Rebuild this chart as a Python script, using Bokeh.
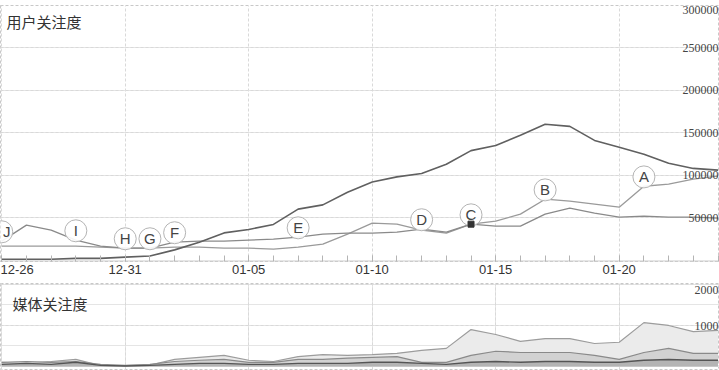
from bokeh.plotting import figure
from bokeh.layouts import column
from bokeh.models import ColumnDataSource, FixedTicker, Range1d, Label, LabelSet, Grid
from bokeh.core.properties import value
from bokeh.embed import file_html
from bokeh.resources import INLINE

# ---------------- data ----------------
dates = ["12-26", "12-27", "12-28", "12-29", "12-30", "12-31", "01-01", "01-02",
         "01-03", "01-04", "01-05", "01-06", "01-07", "01-08", "01-09", "01-10",
         "01-11", "01-12", "01-13", "01-14", "01-15", "01-16", "01-17", "01-18",
         "01-19", "01-20", "01-21", "01-22", "01-23", "01-24"]

user_total = [1000, 1000, 1000, 2000, 2000, 3500, 4700, 12000, 21000, 32000,
              36000, 42000, 60000, 65000, 80000, 92000, 98000, 102000, 113000, 129000,
              135000, 147000, 160000, 157600, 141000, 133000, 124700, 114000, 108000, 106000]

user_b = [22300, 41200, 35300, 23500, 16500, 14100, 14100, 21200, 22300, 22300,
          23500, 24700, 27000, 30600, 31800, 31800, 32900, 36500, 32900, 42300,
          40000, 40000, 54100, 61200, 55300, 50600, 51700, 50600, 50600, 49400]

user_c = [16500, 16500, 16500, 16500, 15300, 14100, 14100, 15300, 15300, 14100,
          14100, 12900, 15300, 18800, 30600, 43500, 42300, 35300, 31800, 42300,
          45900, 54100, 71700, 69400, 65900, 62300, 87000, 89400, 95300, 98800]

media_a = [100, 75, 120, 170, 20, 20, 30, 170, 220, 270,
           150, 120, 240, 290, 270, 290, 320, 390, 440, 900,
           780, 610, 680, 680, 560, 590, 1070, 1000, 850, 880]

media_b = [100, 120, 100, 120, 50, 25, 50, 120, 150, 170,
           100, 100, 170, 170, 200, 220, 240, 100, 100, 270,
           370, 340, 340, 340, 270, 170, 340, 440, 320, 320]

media_c = [50, 75, 50, 100, 25, 10, 25, 50, 75, 75,
           50, 50, 75, 75, 75, 100, 100, 75, 50, 100,
           120, 100, 120, 120, 100, 100, 150, 170, 150, 150]

event_letters = ["J", "I", "H", "G", "F", "E", "D", "C", "B", "A"]
event_days = [0, 3, 5, 6, 7, 12, 17, 19, 22, 26]

user_ticks = [50000, 100000, 150000, 200000, 250000, 300000]
user_tick_labels = ["50000", "100000", "150000", "200000", "250000", "300000"]
media_ticks = [1000, 2000]
media_tick_labels = ["1000", "2000"]
date_ticks = [0, 5, 10, 15, 20, 25]

# ---------------- layout constants ----------------
W = 719
X0, X1 = -0.05, 29.06
days = list(range(len(dates)))
FONT = value("Liberation Sans")
GRID = "#d9d9d9"

# ---------------- top panel ----------------
p1 = figure(width=W, height=283, x_range=Range1d(X0, X1), y_range=Range1d(-1700, 300000),
            output_backend="svg", toolbar_location=None, y_axis_location=None,
            min_border_left=0, min_border_right=0, min_border_top=5, min_border_bottom=22,
            background_fill_color="white", border_fill_color="white",
            outline_line_color="#c8c8c8", outline_line_dash="3 2")

p1.xaxis.ticker = FixedTicker(ticks=date_ticks, minor_ticks=days)
p1.xaxis.major_label_overrides = {d: dates[d] for d in date_ticks}
p1.xaxis.major_label_text_font = "Liberation Sans"
p1.xaxis.major_label_text_font_size = "13px"
p1.xaxis.major_label_text_color = "#333333"
p1.xaxis.major_label_standoff = 3
p1.xaxis.axis_line_color = "#cccccc"
p1.xaxis.axis_line_dash = "3 2"
p1.xaxis.major_tick_in = 6
p1.xaxis.major_tick_out = 0
p1.xaxis.minor_tick_in = 6
p1.xaxis.minor_tick_out = 0
p1.xaxis.major_tick_line_color = "#b4b4b4"
p1.xaxis.minor_tick_line_color = "#b4b4b4"
p1.xgrid.ticker = FixedTicker(ticks=date_ticks)
p1.xgrid.grid_line_color = GRID
p1.xgrid.grid_line_dash = "3 2"
p1.add_layout(Grid(dimension=1, ticker=FixedTicker(ticks=user_ticks),
                   grid_line_color=GRID, grid_line_dash="3 2"))

p1.line(days, user_c, line_color="#9a9a9a", line_width=1.3)
p1.line(days, user_b, line_color="#8a8a8a", line_width=1.3)
p1.line(days, user_total, line_color="#606060", line_width=1.6)

# event markers
ev_y = [max(user_b[d], user_c[d]) + 11000 for d in event_days]
ev_dx = [5 if d == 0 else 0 for d in event_days]
ev_src = ColumnDataSource(dict(x=event_days, y=ev_y, t=event_letters, dx=ev_dx))
p1.scatter("x", "y", source=ev_src, marker="circle", size=22,
           fill_color="white", fill_alpha=0.9, line_color="#b4b4b4", line_width=1)
p1.text("x", "y", text="t", source=ev_src, x_offset="dx", text_align="center",
        text_baseline="middle", text_font=FONT, text_font_size="15px",
        text_color="#444444")
p1.scatter([event_days[7]], [user_c[event_days[7]]], marker="square", size=6,
           fill_color="#333333", line_color="#333333")

# right-side y labels
yl_src = ColumnDataSource(dict(x=[X1] * len(user_ticks), y=user_ticks, t=user_tick_labels,
                               dy=[0, 0, 0, 0, 0, -4]))
p1.add_layout(LabelSet(x="x", y="y", text="t", source=yl_src, text_align="right",
                       text_baseline="middle", x_offset=-1, y_offset="dy",
                       text_font_size="12px", text_font="Liberation Sans",
                       text_color="#444444"))

p1.add_layout(Label(x=X0, y=300000, text="用户关注度", x_offset=6, y_offset=-5,
                    text_baseline="top", text_font="Noto Sans CJK SC",
                    text_font_size="15px", text_color="#333333"))

# ---------------- bottom panel ----------------
p2 = figure(width=W, height=87, x_range=p1.x_range, y_range=Range1d(-100, 2025),
            output_backend="svg", toolbar_location=None,
            x_axis_location=None, y_axis_location=None,
            min_border_left=0, min_border_right=0, min_border_top=0, min_border_bottom=0,
            background_fill_color="white", border_fill_color="white",
            outline_line_color="#c8c8c8", outline_line_dash="3 2")
p2.add_layout(Grid(dimension=0, ticker=FixedTicker(ticks=date_ticks),
                   grid_line_color=GRID, grid_line_dash="3 2"))
p2.add_layout(Grid(dimension=1, ticker=FixedTicker(ticks=media_ticks),
                   grid_line_color=GRID, grid_line_dash="3 2"))

zeros = [0] * len(days)
p2.varea(x=days, y1=zeros, y2=media_a, fill_color="#ebebeb")
p2.line(days, media_a, line_color="#9c9c9c", line_width=1.2)
p2.varea(x=days, y1=zeros, y2=media_b, fill_color="#d2d2d2")
p2.line(days, media_b, line_color="#8a8a8a", line_width=1.2)
p2.varea(x=days, y1=zeros, y2=media_c, fill_color="#b4b4b4")
p2.line(days, media_c, line_color="#555555", line_width=1.4)

ml_src = ColumnDataSource(dict(x=[X1] * len(media_ticks), y=media_ticks, t=media_tick_labels,
                               dy=[-1, -5]))
p2.add_layout(LabelSet(x="x", y="y", text="t", source=ml_src, text_align="right",
                       text_baseline="middle", x_offset=-1, y_offset="dy",
                       text_font_size="12px", text_font="Liberation Sans",
                       text_color="#444444"))
p2.add_layout(Label(x=X0, y=2025, text="媒体关注度", x_offset=12, y_offset=-9,
                    text_baseline="top", text_font="Noto Sans CJK SC",
                    text_font_size="15px", text_color="#333333"))

layout = column(p1, p2, spacing=0)
open("out.html", "w").write(file_html(layout, INLINE))
